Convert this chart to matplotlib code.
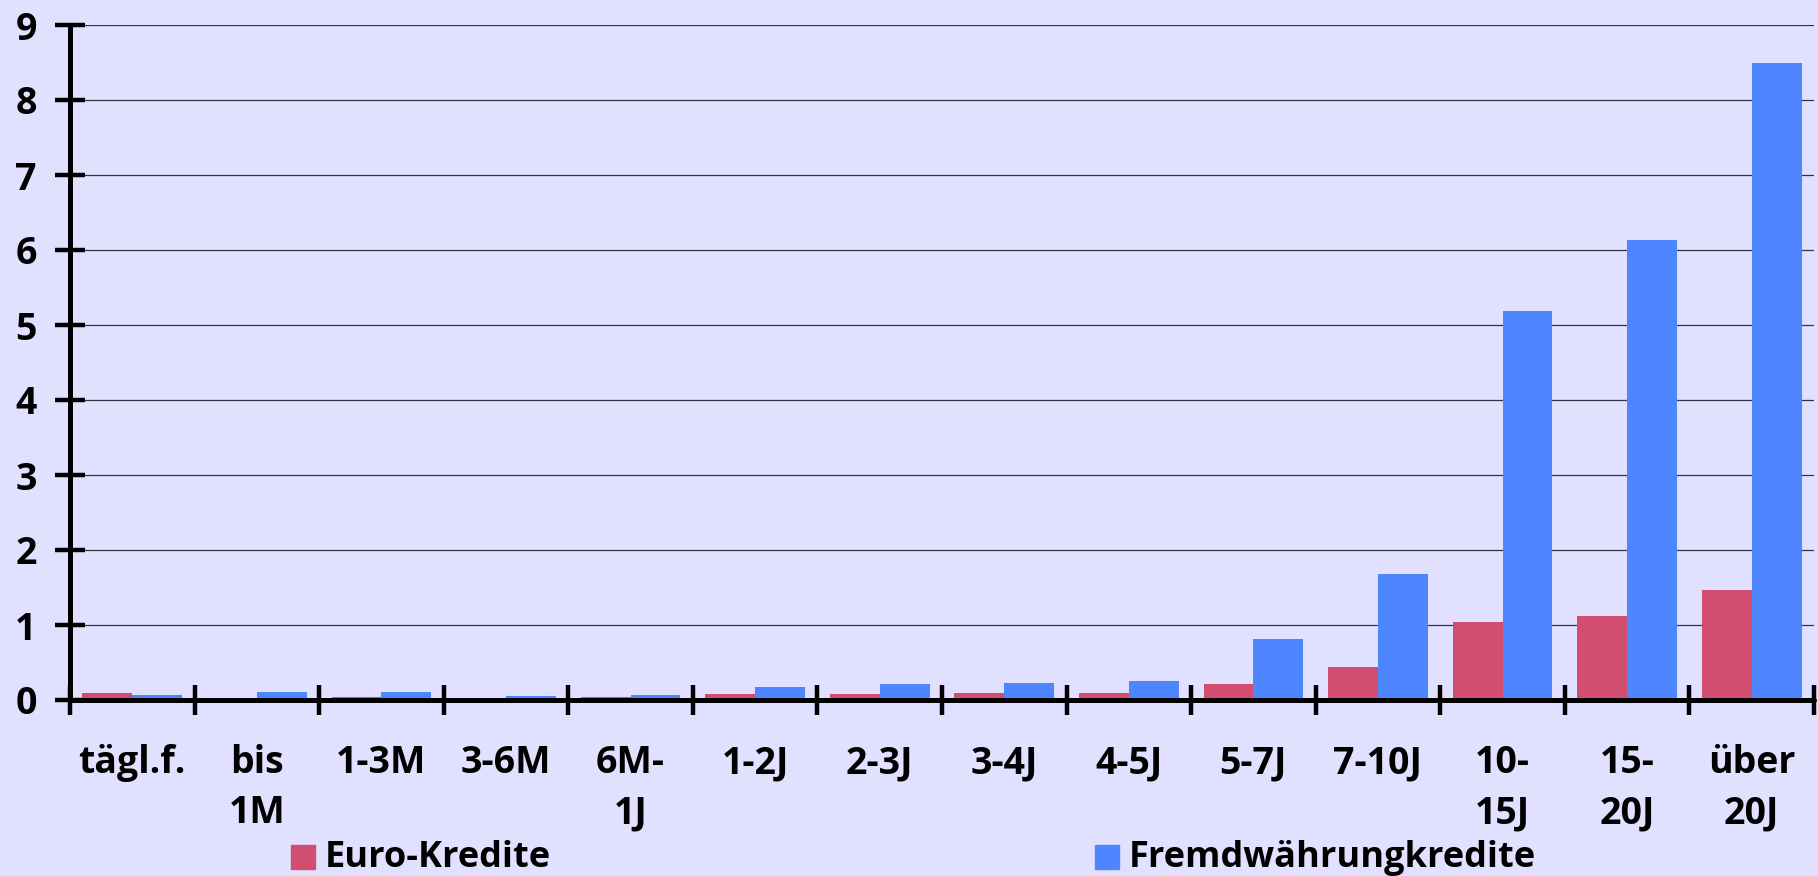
import matplotlib.pyplot as plt
from matplotlib.patches import Rectangle
import numpy as np

plt.rcParams['font.family'] = ['Open Sans', 'DejaVu Sans']

# Laufzeitbänder
categories = ['tägl.f.', 'bis\n1M', '1-3M', '3-6M', '6M-\n1J', '1-2J', '2-3J',
              '3-4J', '4-5J', '5-7J', '7-10J', '10-\n15J', '15-\n20J', 'über\n20J']
euro = [0.09, 0.0, 0.04, 0.0, 0.04, 0.08, 0.08, 0.09, 0.09, 0.21, 0.44, 1.04, 1.12, 1.47]
fremd = [0.07, 0.11, 0.11, 0.05, 0.07, 0.17, 0.21, 0.23, 0.25, 0.82, 1.68, 5.19, 6.13, 8.5]
legend_labels = ['Euro-Kredite', 'Fremdwährungkredite']

bg = '#e1e1ff'
red = '#d24e71'
blue = '#4d86ff'

W, H = 1818, 876
fig = plt.figure(figsize=(W / 100, H / 100), dpi=100, facecolor=bg)
ax = fig.add_axes([70 / W, 176 / H, (1814 - 70) / W, (700 - 25) / H])
ax.set_facecolor(bg)

x = np.arange(len(categories))
w = 0.4
ax.bar(x - w / 2, euro, w, color=red, zorder=2)
ax.bar(x + w / 2, fremd, w, color=blue, zorder=2)

ax.set_xlim(-0.5, len(categories) - 0.5)
ax.set_ylim(0, 9)
ax.set_yticks(range(10))
ax.yaxis.grid(True, color='#333344', linewidth=0.9, zorder=0)
ax.set_axisbelow(True)

for s in ['top', 'right']:
    ax.spines[s].set_visible(False)
for s in ['left', 'bottom']:
    ax.spines[s].set_linewidth(3.6)
    ax.spines[s].set_capstyle('round')

ax.tick_params(axis='y', direction='inout', length=22, width=3.2, pad=13,
               labelsize=27)
for lab in ax.get_yticklabels():
    lab.set_fontweight('bold')

ax.set_xticks(x)
ax.set_xticklabels(categories, fontsize=27, fontweight='bold', linespacing=1.4)
ax.set_xticks(np.arange(-0.5, len(categories)), minor=True)
ax.tick_params(axis='x', which='major', length=0, pad=32)
ax.tick_params(axis='x', which='minor', direction='inout', length=22, width=3.2)
for t in ax.xaxis.get_minor_ticks() + ax.yaxis.get_major_ticks():
    t.tick1line.set_solid_capstyle('round')

# Legende unten
for (px, tx), col, txt in zip([(291, 325), (1095, 1129)], [red, blue], legend_labels):
    fig.add_artist(Rectangle((px / W, (H - 869) / H), 24 / W, 24 / H,
                             transform=fig.transFigure, color=col))
    fig.text(tx / W, (H - 867) / H, txt, fontsize=26, fontweight='bold',
             va='baseline', ha='left')

fig.savefig('out.png', dpi=100, facecolor=bg)
